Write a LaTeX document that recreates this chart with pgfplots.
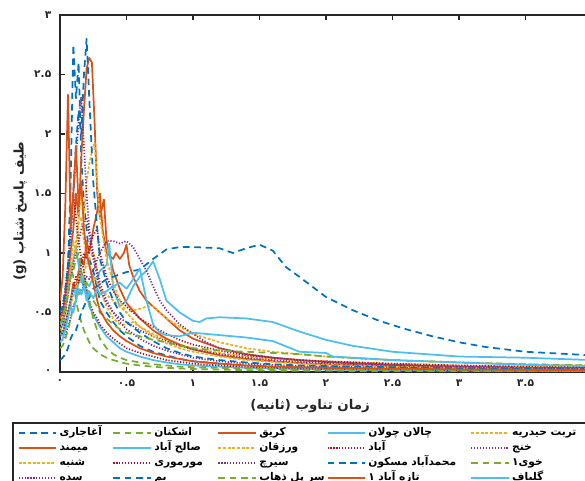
\documentclass[border=0pt]{standalone}
\usepackage{fontspec}
\usepackage{pgfplots}
\pgfplotsset{compat=1.18}
\TeXXeTstate=1
\newfontfamily\fa[Script=Arabic]{DejaVu Sans}
\definecolor{mblue}{rgb}{0,0.447,0.741}
\definecolor{morange}{rgb}{0.85,0.325,0.098}
\definecolor{myellow}{rgb}{0.929,0.694,0.125}
\definecolor{mpurple}{rgb}{0.494,0.184,0.556}
\definecolor{mgreen}{rgb}{0.466,0.674,0.188}
\definecolor{mlblue}{rgb}{0.301,0.745,0.933}
\definecolor{mred}{rgb}{0.635,0.078,0.184}
\pgfplotsset{
 sBlue/.style={color=mblue, line width=1.3pt, dash pattern=on 5pt off 3.5pt},
 sOrange/.style={color=morange, line width=1.3pt, solid},
 sYellow/.style={color=myellow, line width=1.3pt, dash pattern=on 2.2pt off 1.3pt},
 sPurple/.style={color=mpurple, line width=1.3pt, dash pattern=on 0.9pt off 1.3pt},
 sGreen/.style={color=mgreen, line width=1.3pt, dash pattern=on 5pt off 3.5pt},
 sLBlue/.style={color=mlblue, line width=1.3pt, solid},
 sRed/.style={color=mred, line width=1.3pt, dash pattern=on 0.9pt off 1.3pt},
}
\newcommand{\legtxt}[1]{\mbox{\beginR #1\endR}}
\begin{document}
\begin{tikzpicture}
\useasboundingbox (0,0) rectangle (438.75pt,360.75pt);
\clip (0,0) rectangle (438.75pt,360.75pt);
\begin{axis}[
  scale only axis, width=399pt, height=267.75pt,
  at={(45pt,81.75pt)}, anchor=south west,
  xmin=0, xmax=4, ymin=0, ymax=3,
  xtick={0,0.5,...,4}, xticklabels={۰,۰.۵,۱,۱.۵,۲,۲.۵,۳,۳.۵,{}},
  ytick={0,0.5,...,3}, yticklabels={۰,۰.۵,۱,۱.۵,۲,۲.۵,۳},
  tick label style={font=\fa\bfseries\fontsize{8}{9}\selectfont, text=black!85},
  xticklabel style={yshift=-2pt},
  yticklabel style={xshift=-3pt},
  tick align=inside, major tick length=3.75pt,
  major tick style={line width=1pt, black!85},
  axis line style={line width=1.2pt, black!85},
  xtick pos=both, ytick pos=both,
  xlabel={\fa\bfseries\beginR زمان تناوب (ثانیه)\endR},
  ylabel={\fa\bfseries\beginR طیف پاسخ شتاب \beginL(g)\endL\endR},
  label style={font=\fontsize{10}{12}\selectfont, text=black!85},
  xlabel style={at={(axis description cs:0.47,-0.095)}, anchor=center},
  ylabel style={at={(axis description cs:-0.075,0.45)}, anchor=center},
  no markers,
  every axis plot/.append style={line join=round},
  legend columns=5,
  legend cell align=left,
  legend image code/.code={\draw[#1, line width=1.3pt] (0pt,0pt) -- (28pt,0pt);},
  legend style={at={(axis description cs:-0.0902,-0.14)}, anchor=north west,
    draw=black!85, line width=1.2pt,
    font=\fa\bfseries\fontsize{8}{9}\selectfont,
    inner xsep=3.75pt, inner ysep=2pt, row sep=0pt, column sep=0pt,
    nodes={inner ysep=1.1pt, inner xsep=2pt, text height=6.5pt, text depth=2.5pt},
    /tikz/column 2/.style={nodes={text width=37.75pt}},
    /tikz/column 4/.style={nodes={text width=45.5pt}},
    /tikz/column 6/.style={nodes={text width=48.5pt}},
    /tikz/column 8/.style={nodes={text width=74.5pt}},
    /tikz/column 10/.style={nodes={text width=60pt}}},
]
% row 1
\addplot[sBlue] coordinates {(0,0.3)(0.02,0.35)(0.04,0.5)(0.06,0.9)(0.08,1.6)(0.1,2.75)(0.12,2.3)(0.14,2.6)(0.16,1.8)(0.18,1.4)(0.2,1.2)(0.22,0.95)(0.25,0.85)(0.28,0.7)(0.3,0.6)(0.35,0.5)(0.4,0.42)(0.45,0.35)(0.5,0.3)(0.6,0.22)(0.7,0.17)(0.8,0.14)(0.9,0.11)(1.0,0.09)(1.2,0.07)(1.4,0.055)(1.6,0.045)(1.8,0.04)(2.0,0.035)(2.5,0.025)(3.0,0.02)(3.5,0.015)(4.0,0.012)};
\addlegendentry{\legtxt{آغاجاری}}
\addplot[sGreen] coordinates {(0,0.3)(0.02,0.35)(0.04,0.5)(0.06,0.7)(0.08,0.9)(0.1,0.8)(0.12,0.6)(0.14,0.5)(0.16,0.42)(0.18,0.35)(0.2,0.3)(0.22,0.25)(0.25,0.2)(0.28,0.17)(0.3,0.15)(0.35,0.12)(0.4,0.1)(0.45,0.085)(0.5,0.07)(0.6,0.055)(0.7,0.045)(0.8,0.035)(0.9,0.03)(1.0,0.025)(1.2,0.02)(1.4,0.015)(1.6,0.012)(1.8,0.01)(2.0,0.01)(2.5,0.008)(3.0,0.006)(3.5,0.005)(4.0,0.004)};
\addlegendentry{\legtxt{اشکنان}}
\addplot[sOrange] coordinates {(0,0.3)(0.02,0.32)(0.04,0.4)(0.06,0.5)(0.08,0.6)(0.1,0.75)(0.12,0.7)(0.14,0.85)(0.16,0.95)(0.18,0.9)(0.2,1.1)(0.22,1.0)(0.25,1.2)(0.28,1.35)(0.3,1.5)(0.32,1.2)(0.35,1.0)(0.4,0.95)(0.42,1.0)(0.45,0.95)(0.48,1.0)(0.5,1.07)(0.52,0.9)(0.55,0.8)(0.6,0.68)(0.65,0.6)(0.7,0.55)(0.8,0.45)(0.9,0.35)(1.0,0.28)(1.2,0.2)(1.4,0.15)(1.6,0.12)(1.8,0.1)(2.0,0.085)(2.5,0.06)(3.0,0.045)(3.5,0.035)(4.0,0.03)};
\addlegendentry{\legtxt{کریق}}
\addplot[sLBlue] coordinates {(0,0.35)(0.02,0.4)(0.04,0.55)(0.06,0.7)(0.08,0.85)(0.1,0.95)(0.12,1.05)(0.14,0.9)(0.16,0.75)(0.18,0.8)(0.2,0.65)(0.22,0.55)(0.25,0.48)(0.28,0.42)(0.3,0.38)(0.35,0.3)(0.4,0.25)(0.45,0.2)(0.5,0.17)(0.6,0.13)(0.7,0.1)(0.8,0.08)(0.9,0.065)(1.0,0.055)(1.2,0.045)(1.4,0.035)(1.6,0.03)(1.8,0.025)(2.0,0.02)(2.5,0.015)(3.0,0.012)(3.5,0.01)(4.0,0.008)};
\addlegendentry{\legtxt{چالان چولان}}
\addplot[sYellow] coordinates {(0,0.3)(0.02,0.33)(0.04,0.4)(0.06,0.5)(0.08,0.55)(0.1,0.65)(0.12,0.7)(0.14,0.8)(0.16,0.75)(0.18,0.85)(0.2,0.9)(0.22,0.95)(0.25,1.0)(0.28,0.85)(0.3,0.7)(0.35,0.55)(0.4,0.45)(0.45,0.4)(0.5,0.4)(0.55,0.42)(0.6,0.38)(0.7,0.32)(0.8,0.27)(0.9,0.23)(1.0,0.2)(1.2,0.16)(1.4,0.13)(1.6,0.11)(1.8,0.1)(2.0,0.09)(2.5,0.07)(3.0,0.055)(3.5,0.045)(4.0,0.04)};
\addlegendentry{\legtxt{تربت حیدریه}}
% row 2
\addplot[sOrange] coordinates {(0,0.45)(0.02,0.5)(0.04,0.65)(0.06,0.8)(0.08,1.0)(0.1,1.2)(0.12,1.5)(0.14,1.3)(0.16,1.8)(0.18,2.2)(0.2,2.55)(0.22,2.64)(0.24,2.6)(0.26,2.1)(0.28,1.5)(0.3,1.3)(0.33,1.45)(0.35,1.1)(0.4,0.85)(0.45,0.7)(0.5,0.58)(0.6,0.45)(0.7,0.35)(0.8,0.28)(0.9,0.23)(1.0,0.19)(1.2,0.14)(1.4,0.11)(1.6,0.09)(1.8,0.075)(2.0,0.065)(2.5,0.05)(3.0,0.04)(3.5,0.035)(4.0,0.03)};
\addlegendentry{\legtxt{میمند}}
\addplot[sLBlue] coordinates {(0,0.3)(0.02,0.32)(0.04,0.4)(0.06,0.5)(0.08,0.6)(0.1,0.7)(0.12,0.65)(0.14,0.75)(0.16,0.8)(0.18,0.7)(0.2,0.75)(0.22,0.72)(0.25,0.8)(0.28,0.78)(0.3,0.85)(0.35,0.9)(0.37,1.08)(0.4,0.7)(0.45,0.55)(0.5,0.6)(0.55,0.72)(0.6,0.8)(0.65,0.85)(0.7,0.93)(0.75,0.78)(0.8,0.6)(0.9,0.5)(1.0,0.43)(1.05,0.42)(1.1,0.45)(1.2,0.46)(1.4,0.45)(1.6,0.42)(1.8,0.34)(2.0,0.27)(2.2,0.22)(2.5,0.17)(3.0,0.13)(3.5,0.12)(4.0,0.1)};
\addlegendentry{\legtxt{صالح آباد}}
\addplot[sYellow] coordinates {(0,0.35)(0.02,0.4)(0.04,0.5)(0.06,0.65)(0.08,0.8)(0.1,0.95)(0.12,1.1)(0.14,1.25)(0.16,1.3)(0.18,1.1)(0.2,1.0)(0.22,0.9)(0.25,0.8)(0.28,0.75)(0.3,0.7)(0.35,0.65)(0.4,0.6)(0.45,0.55)(0.5,0.5)(0.55,0.52)(0.6,0.53)(0.65,0.55)(0.7,0.55)(0.75,0.5)(0.8,0.45)(0.9,0.38)(1.0,0.32)(1.2,0.25)(1.4,0.2)(1.6,0.17)(1.8,0.15)(2.0,0.13)(2.5,0.1)(3.0,0.08)(3.5,0.065)(4.0,0.055)};
\addlegendentry{\legtxt{ورزقان}}
\addplot[sRed] coordinates {(0,0.3)(0.02,0.33)(0.04,0.4)(0.06,0.5)(0.08,0.6)(0.1,0.7)(0.12,0.8)(0.14,0.75)(0.16,0.9)(0.18,1.0)(0.2,0.95)(0.22,1.05)(0.25,1.15)(0.28,1.2)(0.3,1.0)(0.35,0.8)(0.4,0.68)(0.45,0.6)(0.5,0.55)(0.6,0.45)(0.7,0.38)(0.8,0.32)(0.9,0.27)(1.0,0.23)(1.2,0.18)(1.4,0.14)(1.6,0.12)(1.8,0.1)(2.0,0.09)(2.5,0.07)(3.0,0.055)(3.5,0.045)(4.0,0.04)};
\addlegendentry{\legtxt{آباد}}
\addplot[sPurple] coordinates {(0,0.35)(0.02,0.4)(0.04,0.5)(0.06,0.65)(0.08,0.8)(0.1,0.9)(0.12,1.0)(0.14,1.1)(0.16,1.2)(0.18,1.25)(0.2,1.3)(0.22,1.15)(0.25,0.95)(0.28,0.8)(0.3,0.7)(0.35,0.58)(0.4,0.5)(0.45,0.45)(0.5,0.42)(0.6,0.35)(0.7,0.3)(0.8,0.26)(0.9,0.22)(1.0,0.19)(1.2,0.15)(1.4,0.12)(1.6,0.1)(1.8,0.085)(2.0,0.075)(2.5,0.055)(3.0,0.045)(3.5,0.035)(4.0,0.03)};
\addlegendentry{\legtxt{خنج}}
% row 3
\addplot[sYellow] coordinates {(0,0.4)(0.02,0.45)(0.04,0.55)(0.06,0.7)(0.08,0.9)(0.1,1.1)(0.12,1.0)(0.14,1.3)(0.16,1.5)(0.18,1.3)(0.2,1.6)(0.22,1.75)(0.24,1.85)(0.26,1.93)(0.28,1.6)(0.3,1.3)(0.35,0.95)(0.4,0.75)(0.45,0.6)(0.5,0.5)(0.6,0.38)(0.7,0.3)(0.8,0.24)(0.9,0.2)(1.0,0.17)(1.2,0.13)(1.4,0.1)(1.6,0.085)(1.8,0.07)(2.0,0.06)(2.5,0.045)(3.0,0.035)(3.5,0.03)(4.0,0.025)};
\addlegendentry{\legtxt{شنبه}}
\addplot[sRed] coordinates {(0,0.5)(0.02,0.55)(0.04,0.7)(0.06,0.9)(0.08,1.2)(0.1,1.5)(0.12,1.3)(0.14,1.1)(0.16,0.95)(0.18,0.85)(0.2,0.7)(0.22,0.6)(0.25,0.5)(0.28,0.45)(0.3,0.4)(0.35,0.33)(0.4,0.28)(0.45,0.24)(0.5,0.2)(0.6,0.16)(0.7,0.13)(0.8,0.1)(0.9,0.085)(1.0,0.07)(1.2,0.055)(1.4,0.045)(1.6,0.035)(1.8,0.03)(2.0,0.025)(2.5,0.02)(3.0,0.015)(3.5,0.012)(4.0,0.01)};
\addlegendentry{\legtxt{مورموری}}
\addplot[sPurple] coordinates {(0,0.25)(0.02,0.27)(0.04,0.32)(0.06,0.38)(0.08,0.45)(0.1,0.55)(0.12,0.6)(0.14,0.7)(0.16,0.65)(0.18,0.75)(0.2,0.8)(0.22,0.78)(0.25,0.85)(0.28,0.95)(0.3,1.0)(0.35,1.1)(0.4,1.1)(0.45,1.08)(0.5,1.1)(0.55,1.05)(0.6,0.95)(0.65,0.85)(0.7,0.72)(0.75,0.6)(0.8,0.52)(0.9,0.4)(1.0,0.32)(1.1,0.25)(1.2,0.2)(1.4,0.15)(1.6,0.12)(1.8,0.1)(2.0,0.085)(2.5,0.06)(3.0,0.045)(3.5,0.035)(4.0,0.03)};
\addlegendentry{\legtxt{سیرچ}}
\addplot[sBlue] coordinates {(0,0.1)(0.02,0.12)(0.04,0.15)(0.06,0.2)(0.08,0.28)(0.1,0.33)(0.12,0.35)(0.14,0.42)(0.16,0.5)(0.18,0.55)(0.2,0.6)(0.22,0.62)(0.25,0.7)(0.28,0.72)(0.3,0.74)(0.35,0.78)(0.4,0.8)(0.45,0.82)(0.5,0.84)(0.6,0.86)(0.7,0.95)(0.8,1.03)(0.9,1.05)(1.0,1.05)(1.2,1.04)(1.3,1.0)(1.4,1.04)(1.5,1.07)(1.6,1.02)(1.7,0.88)(1.8,0.8)(2.0,0.63)(2.2,0.52)(2.4,0.43)(2.6,0.36)(2.8,0.3)(3.0,0.25)(3.2,0.21)(3.5,0.17)(4.0,0.14)};
\addlegendentry{\legtxt{محمدآباد مسکون}}
\addplot[sGreen] coordinates {(0,0.2)(0.02,0.22)(0.04,0.28)(0.06,0.35)(0.08,0.45)(0.1,0.55)(0.12,0.6)(0.14,0.65)(0.16,0.7)(0.18,0.72)(0.2,0.75)(0.22,0.6)(0.25,0.45)(0.28,0.35)(0.3,0.28)(0.35,0.2)(0.4,0.15)(0.45,0.12)(0.5,0.1)(0.6,0.08)(0.7,0.065)(0.8,0.055)(0.9,0.045)(1.0,0.04)(1.2,0.035)(1.4,0.03)(1.6,0.025)(1.8,0.02)(2.0,0.02)(2.5,0.015)(3.0,0.012)(3.5,0.01)(4.0,0.008)};
\addlegendentry{\legtxt{خوی۱}}
% row 4
\addplot[sPurple] coordinates {(0,0.4)(0.02,0.45)(0.04,0.6)(0.06,0.8)(0.08,1.1)(0.1,1.5)(0.12,1.8)(0.14,2.1)(0.16,2.31)(0.18,1.9)(0.2,1.5)(0.22,1.2)(0.25,1.0)(0.28,0.85)(0.3,0.75)(0.35,0.6)(0.4,0.5)(0.45,0.42)(0.5,0.36)(0.6,0.28)(0.7,0.22)(0.8,0.18)(0.9,0.15)(1.0,0.12)(1.2,0.09)(1.4,0.07)(1.6,0.06)(1.8,0.05)(2.0,0.045)(2.5,0.035)(3.0,0.03)(3.5,0.025)(4.0,0.02)};
\addlegendentry{\legtxt{سده}}
\addplot[sBlue] coordinates {(0,0.5)(0.02,0.55)(0.04,0.7)(0.06,0.9)(0.08,1.2)(0.1,1.5)(0.12,1.9)(0.14,2.2)(0.16,2.0)(0.18,2.5)(0.2,2.8)(0.22,2.3)(0.25,1.6)(0.28,1.2)(0.3,0.95)(0.35,0.75)(0.4,0.6)(0.45,0.5)(0.5,0.42)(0.6,0.33)(0.7,0.26)(0.8,0.2)(0.9,0.16)(1.0,0.13)(1.2,0.1)(1.4,0.08)(1.6,0.065)(1.8,0.055)(2.0,0.05)(2.5,0.04)(3.0,0.03)(3.5,0.025)(4.0,0.02)};
\addlegendentry{\legtxt{بم}}
\addplot[sGreen] coordinates {(0,0.4)(0.02,0.45)(0.04,0.55)(0.06,0.65)(0.08,0.8)(0.1,0.85)(0.12,0.95)(0.14,1.0)(0.16,0.85)(0.18,0.75)(0.2,0.7)(0.22,0.65)(0.25,0.6)(0.28,0.55)(0.3,0.5)(0.35,0.45)(0.4,0.4)(0.45,0.36)(0.5,0.33)(0.6,0.3)(0.7,0.27)(0.8,0.25)(0.9,0.22)(1.0,0.2)(1.2,0.18)(1.4,0.17)(1.6,0.16)(1.8,0.15)(2.0,0.13)(2.5,0.1)(3.0,0.08)(3.5,0.065)(4.0,0.055)};
\addlegendentry{\legtxt{سر پل ذهاب}}
\addplot[sOrange] coordinates {(0,0.6)(0.02,0.8)(0.04,1.4)(0.06,2.33)(0.07,1.8)(0.08,1.2)(0.1,1.5)(0.12,1.9)(0.14,1.4)(0.16,1.6)(0.18,1.2)(0.2,1.0)(0.22,0.9)(0.25,0.75)(0.28,0.6)(0.3,0.52)(0.35,0.42)(0.4,0.35)(0.45,0.3)(0.5,0.26)(0.6,0.2)(0.7,0.16)(0.8,0.13)(0.9,0.11)(1.0,0.09)(1.2,0.07)(1.4,0.055)(1.6,0.045)(1.8,0.04)(2.0,0.035)(2.5,0.028)(3.0,0.022)(3.5,0.018)(4.0,0.015)};
\addlegendentry{\legtxt{تازه آباد ۱}}
\addplot[sLBlue] coordinates {(0,0.25)(0.02,0.28)(0.04,0.35)(0.06,0.45)(0.08,0.55)(0.1,0.5)(0.12,0.6)(0.14,0.7)(0.16,0.65)(0.18,0.72)(0.2,0.6)(0.22,0.68)(0.25,0.62)(0.28,0.7)(0.3,0.65)(0.35,0.68)(0.4,0.72)(0.45,0.75)(0.5,0.7)(0.55,0.78)(0.6,0.87)(0.65,0.6)(0.7,0.4)(0.75,0.33)(0.8,0.31)(0.9,0.3)(1.0,0.33)(1.2,0.31)(1.4,0.29)(1.6,0.26)(1.8,0.17)(2.0,0.16)(2.05,0.13)(2.5,0.1)(3.0,0.08)(3.5,0.06)(4.0,0.05)};
\addlegendentry{\legtxt{گلباف}}
\end{axis}
\end{tikzpicture}
\end{document}
